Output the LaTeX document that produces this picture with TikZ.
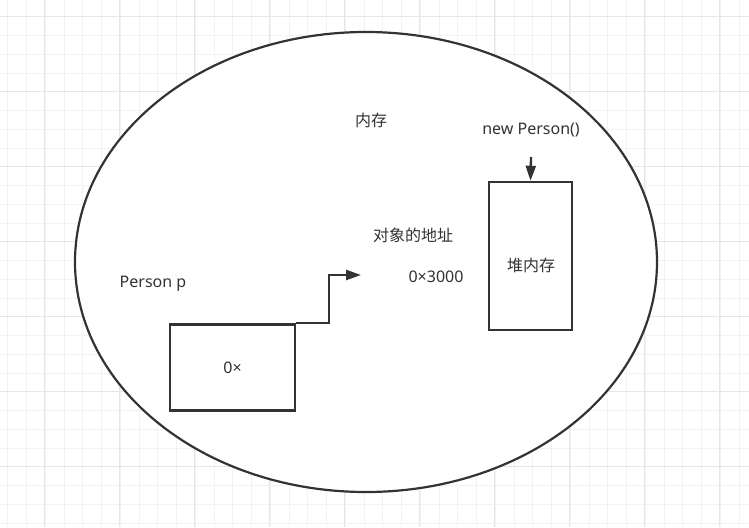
\documentclass[tikz,border=0pt]{standalone}
\usepackage{fontspec}
\setmainfont{Noto Sans}
\newfontfamily\cjk{Noto Sans CJK SC}
\usetikzlibrary{arrows.meta,positioning,shapes.geometric}
\definecolor{ink}{HTML}{333333}
\definecolor{gridminor}{HTML}{F2F2F2}
\definecolor{gridmajor}{HTML}{E6E6E6}
\tikzset{
  minorgrid/.style={draw=gridminor, line width=0.9pt},
  majorgrid/.style={draw=gridmajor, line width=1pt},
  membox/.style={draw=ink, line width=2.5pt, fill=white},
  label/.style={text=ink, font=\fontsize{16}{18}\selectfont, inner sep=0pt},
  cjklabel/.style={label, font=\fontsize{16}{18}\selectfont\cjk},
  arr/.style={-{Triangle[length=15pt,width=10pt]}, draw=ink, line width=2.3pt}
}
\begin{document}
\begin{tikzpicture}[x=1pt, y=-1pt]
  \useasboundingbox (0,0) rectangle (749,527);
  \fill[white] (0,0) rectangle (749,527);
  % background grid
  \foreach \i in {0,...,39} {\draw[minorgrid] ({7.7+18.75*\i},0) -- ++(0,527);}
  \foreach \j in {0,...,28} {\draw[minorgrid] (0,{-2.05+18.75*\j}) -- ++(749,0);}
  \foreach \i in {0,...,9} {\draw[majorgrid] ({44.7+75*\i},0) -- ++(0,527);}
  \foreach \j in {0,...,6} {\draw[majorgrid] (0,{16.7+75*\j}) -- ++(749,0);}

  \node[membox, line width=2.2pt, ellipse, minimum width=582pt, minimum height=460pt, inner sep=0pt] (mem) at (366,262) {};
  \node[membox, minimum width=125pt, minimum height=86pt] (ref) at (232.5,367.5) {};
  \node[membox, minimum width=83pt, minimum height=148pt] (heap) at (530.5,256) {};

  \node[cjklabel] (memlabel) at (371,120) {内存};
  \node[label] (newobj) at (531,130) {new Person()};
  \node[cjklabel] (addrlabel) at (413,235) {对象的地址};
  \node[label] (addr) at (436,277) {0×3000};
  \node[label] (var) at (153,284) {Person p};
  \node[label] at (ref.center) (refval) {0×};
  \node[cjklabel] at (531,265) (heaplabel) {堆内存};

  \coordinate (tip) at (361,275);
  \coordinate (newtail) at (531,157);
  \draw[arr] (ref.north east) -- ++(33,0) |- (tip);
  \draw[arr] (newtail) -- (heap.north);
\end{tikzpicture}
\end{document}
